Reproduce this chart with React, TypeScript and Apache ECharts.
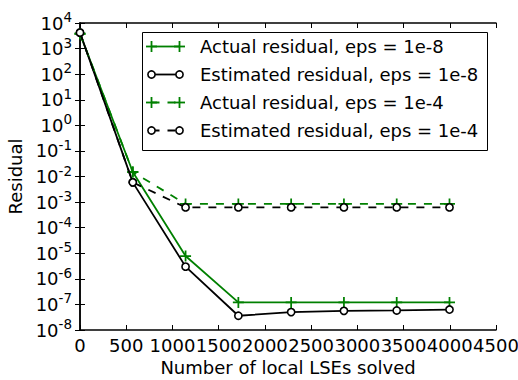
import React, { useEffect, useRef } from "react";
import * as echarts from "echarts";

// Number of local LSEs solved at each outer iteration
const lsesSolved = [0, 571, 1142, 1713, 2284, 2855, 3426, 3997];

// Residual histories for the two tolerances
const actualEps8 = [3800, 1.5e-2, 7.8e-6, 1.2e-7, 1.2e-7, 1.2e-7, 1.2e-7, 1.2e-7];
const estimatedEps8 = [4200, 5.9e-3, 3.0e-6, 3.6e-8, 5.0e-8, 5.6e-8, 5.8e-8, 6.3e-8];
const actualEps4 = [3800, 1.5e-2, 8.5e-4, 8.5e-4, 8.5e-4, 8.5e-4, 8.5e-4, 8.5e-4];
const estimatedEps4 = [4200, 5.9e-3, 6.2e-4, 6.2e-4, 6.2e-4, 6.2e-4, 6.2e-4, 6.2e-4];

const seriesNames = [
  "Actual residual, eps = 1e-8",
  "Estimated residual, eps = 1e-8",
  "Actual residual, eps = 1e-4",
  "Estimated residual, eps = 1e-4",
];

// Axis ticks
const xTickValues = [0, 500, 1000, 1500, 2000, 2500, 3000, 3500, 4000, 4500];
const yDecades = [-8, -7, -6, -5, -4, -3, -2, -1, 0, 1, 2, 3, 4];

const GREEN = "#008000";
const BLACK = "#000000";
const FONT = "DejaVu Sans";
const FONT_SIZE = 18;
const PLUS = "path://M42,0H58V42H100V58H58V100H42V58H0V42H42Z";

type Kind = { color: string; marker: "plus" | "circle"; dashed: boolean };
const kinds: Kind[] = [
  { color: GREEN, marker: "plus", dashed: false },
  { color: BLACK, marker: "circle", dashed: false },
  { color: GREEN, marker: "plus", dashed: true },
  { color: BLACK, marker: "circle", dashed: true },
];
const values = [actualEps8, estimatedEps8, actualEps4, estimatedEps4];

function markerGraphic(kind: Kind, cx: number, cy: number): any[] {
  if (kind.marker === "plus") {
    return [
      { type: "rect", shape: { x: cx - 5.5, y: cy - 0.9, width: 11, height: 1.8 }, style: { fill: kind.color } },
      { type: "rect", shape: { x: cx - 0.9, y: cy - 5.5, width: 1.8, height: 11 }, style: { fill: kind.color } },
    ];
  }
  return [
    { type: "circle", shape: { cx, cy, r: 3.6 }, style: { fill: "#fff", stroke: kind.color, lineWidth: 1.6 } },
  ];
}

function buildLegend(): any {
  const left = 142.5;
  const top = 32.5;
  const children: any[] = [
    {
      type: "rect",
      shape: { x: left, y: top, width: 345, height: 118 },
      style: { fill: "#fff", stroke: BLACK, lineWidth: 1 },
    },
  ];
  seriesNames.forEach((name, i) => {
    const kind = kinds[i];
    const y = 46.5 + i * 28;
    const x1 = 151.5;
    const x2 = 179.5;
    children.push({
      type: "line",
      shape: { x1, y1: y, x2, y2: y },
      style: { stroke: kind.color, lineWidth: 1.8, lineDash: kind.dashed ? [8, 8] : null },
    });
    children.push(...markerGraphic(kind, x1, y), ...markerGraphic(kind, x2, y));
    children.push({
      type: "text",
      x: 200,
      y,
      style: {
        text: name,
        fill: BLACK,
        fontSize: FONT_SIZE,
        fontFamily: FONT,
        verticalAlign: "middle",
        align: "left",
      },
    });
  });
  return { type: "group", z: 100, children };
}

function powerLabel(v: number): string {
  const e = Math.round(Math.log10(v));
  return `{b|10}{s|${e}}`;
}

export default function App() {
  const ref = useRef<HTMLDivElement>(null);

  useEffect(() => {
    if (!ref.current) return;
    const chart = echarts.init(ref.current, null, { renderer: "svg" });

    const xMin = xTickValues[0];
    const xMax = xTickValues[xTickValues.length - 1];
    const xStep = xTickValues[1] - xTickValues[0];
    const yMin = Math.pow(10, yDecades[0]);
    const yMax = Math.pow(10, yDecades[yDecades.length - 1]);

    const axisLine = { show: true, lineStyle: { color: BLACK, width: 1.5 } };
    const tick = { show: true, inside: true, length: 5, lineStyle: { color: BLACK, width: 1 } };

    const xBase = {
      type: "value" as const,
      min: xMin,
      max: xMax,
      interval: xStep,
      axisLine,
      axisTick: tick,
      splitLine: { show: false },
    };
    const yBase = {
      type: "log" as const,
      logBase: 10,
      min: yMin,
      max: yMax,
      interval: 1,
      splitNumber: yDecades.length - 1,
      axisLine,
      axisTick: tick,
      splitLine: { show: false },
      minorTick: { show: false },
    };

    chart.setOption({
      animation: false,
      backgroundColor: "#fff",
      textStyle: { fontFamily: FONT },
      grid: {
        left: 80,
        right: 22,
        top: 23,
        bottom: 50,
        containLabel: false,
        outerBoundsMode: "none",
      },
      xAxis: [
        {
          ...xBase,
          position: "bottom",
          name: "Number of local LSEs solved",
          nameLocation: "middle",
          nameGap: 26,
          nameTextStyle: { fontSize: FONT_SIZE, color: BLACK, fontFamily: FONT },
          axisLabel: {
            fontSize: FONT_SIZE,
            color: BLACK,
            fontFamily: FONT,
            margin: 6,
            formatter: (v: number) => String(v),
          },
        },
        {
          ...xBase,
          position: "top",
          axisLabel: { show: false },
        },
      ],
      yAxis: [
        {
          ...yBase,
          position: "left",
          name: "Residual",
          nameLocation: "middle",
          nameGap: 55,
          nameTextStyle: { fontSize: FONT_SIZE, color: BLACK, fontFamily: FONT },
          axisLabel: {
            margin: 8,
            formatter: powerLabel,
            rich: {
              b: { fontSize: FONT_SIZE, lineHeight: 26, color: BLACK, fontFamily: FONT },
              s: { fontSize: 13.5, lineHeight: 14, color: BLACK, fontFamily: FONT, verticalAlign: "top" },
            },
          },
        },
        {
          ...yBase,
          position: "right",
          axisLabel: { show: false },
        },
      ],
      graphic: [buildLegend()],
      series: seriesNames.map((name, i) => {
        const kind = kinds[i];
        return {
          type: "line",
          name,
          xAxisIndex: 0,
          yAxisIndex: 0,
          data: lsesSolved.map((x, j) => [x, values[i][j]]),
          symbol: kind.marker === "plus" ? PLUS : "circle",
          symbolSize: kind.marker === "plus" ? 11 : 7.2,
          showAllSymbol: true,
          lineStyle: {
            color: kind.color,
            width: 1.8,
            type: kind.dashed ? [8, 8] : "solid",
          },
          itemStyle:
            kind.marker === "plus"
              ? { color: kind.color, borderWidth: 0 }
              : { color: "#fff", borderColor: kind.color, borderWidth: 1.6 },
          z: 2 + i,
        };
      }),
    });

    return () => chart.dispose();
  }, []);

  return (
    <div
      ref={ref}
      style={{ position: "fixed", left: 0, top: 0, width: 518, height: 380 }}
    />
  );
}
